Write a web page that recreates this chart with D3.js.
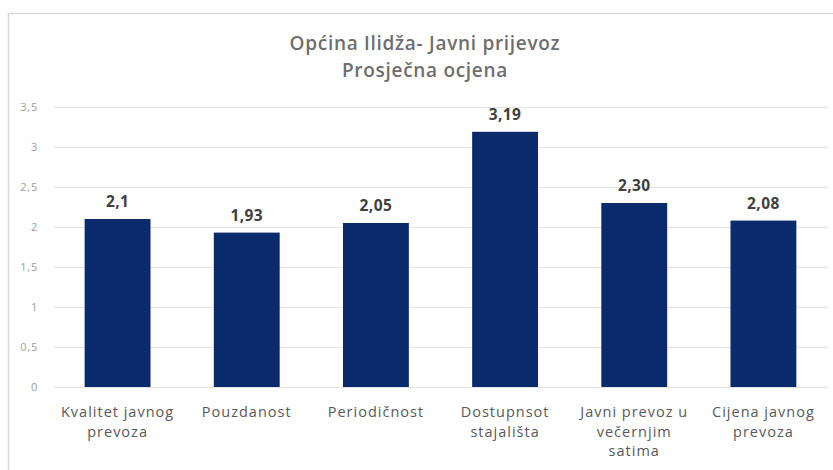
<!DOCTYPE html>
<html><head><meta charset="utf-8">
<script src="https://cdn.jsdelivr.net/npm/d3@7"></script>
<style>body{margin:0;background:#fff}svg{display:block}</style>
</head><body>
<svg id="c" width="833" height="470"></svg>
<script>
const categories = [["Kvalitet javnog","prevoza"],["Pouzdanost"],["Periodičnost"],["Dostupnsot","stajališta"],["Javni prevoz u","večernjim","satima"],["Cijena javnog","prevoza"]];
const values = [2.1, 1.93, 2.05, 3.19, 2.30, 2.08];
const valueLabels = ["2,1","1,93","2,05","3,19","2,30","2,08"];
const yTicks = [0,0.5,1,1.5,2,2.5,3,3.5];
const yTickLabels = ["0","0,5","1","1,5","2","2,5","3","3,5"];
const titleLines = ["Općina Ilidža- Javni prijevoz","Prosječna ocjena"];

const svg = d3.select("#c");
const font = "'Open Sans', sans-serif";
svg.append("rect").attr("x",8.5).attr("y",13.5).attr("width",900).attr("height",600)
  .attr("fill","#fff").attr("stroke","#d9d9d9").attr("stroke-width",1.5);

const x = d3.scaleBand().domain(d3.range(values.length)).range([53,828]).paddingInner(0.49).paddingOuter(0.245);
const y = d3.scaleLinear().domain([0,3.5]).range([387,107]);

const yAxis = d3.axisLeft(y).tickValues(yTicks).tickSize(-(828-53)).tickFormat((d,i)=>yTickLabels[i]);
const ga = svg.append("g").attr("transform","translate(53,0)").call(yAxis);
ga.select(".domain").remove();
ga.selectAll(".tick line").attr("stroke","#e3e3e3");
ga.selectAll(".tick text").attr("x",-15).attr("fill","#a0a0a0").style("font-family",font)
  .style("font-size","11px").style("letter-spacing","0.8px");

svg.selectAll("rect.bar").data(values).join("rect").attr("class","bar")
  .attr("x",(d,i)=>x(i)).attr("width",x.bandwidth())
  .attr("y",d=>y(d)).attr("height",d=>y(0)-y(d)).attr("fill","#0b2a6b");

svg.selectAll("text.val").data(values).join("text").attr("class","val")
  .attr("x",(d,i)=>x(i)+x.bandwidth()/2).attr("y",d=>y(d)-12)
  .attr("text-anchor","middle").attr("fill","#404040").style("font-family",font)
  .style("font-size","15.5px").style("font-weight","bold").style("letter-spacing","0.4px").text((d,i)=>valueLabels[i]);

categories.forEach((lines,i)=>{
  const t = svg.append("text").attr("text-anchor","middle").attr("fill","#595959")
    .style("font-family",font).style("font-size","14.5px").style("letter-spacing","1px");
  lines.forEach((l,j)=>t.append("tspan").attr("x",x(i)+x.bandwidth()/2).attr("y",417+j*19.5).text(l));
});

titleLines.forEach((l,j)=>svg.append("text").attr("x",425).attr("y",50+j*27).attr("text-anchor","middle")
  .attr("fill","#6e6e6e").style("font-family",font).style("font-size","19px").style("font-weight","600")
  .style("letter-spacing","0.7px").text(l));
</script>
</body></html>
